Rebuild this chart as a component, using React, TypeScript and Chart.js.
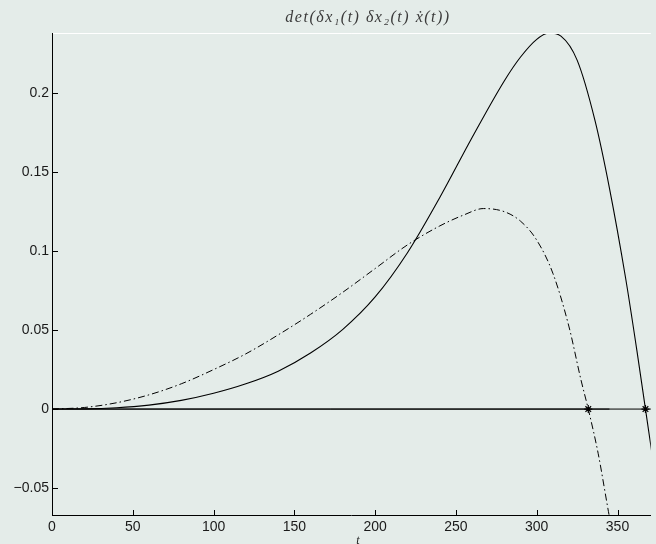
import React, { useEffect, useRef } from 'react';
import { Chart, registerables } from 'chart.js';
Chart.register(...registerables);

const tSolid = [0, 20, 40, 60, 80, 100, 120, 140, 160, 180, 200, 220, 240, 260, 280, 290, 300, 307.6, 315, 325, 336, 345, 355, 362, 367.3, 372];
const vSolid = [0, 0.0001, 0.0008, 0.0025, 0.0055, 0.01, 0.016, 0.024, 0.0355, 0.0505, 0.071, 0.099, 0.134, 0.172, 0.208, 0.223, 0.2342, 0.2382, 0.2362, 0.221, 0.183, 0.14, 0.083, 0.037, 0, -0.033];
const tDash = [0, 20, 40, 60, 80, 100, 120, 140, 160, 180, 200, 220, 240, 255, 267, 280, 290, 300, 310, 320, 327.4, 331.9, 338, 344.4, 348];
const vDash = [0, 0.001, 0.004, 0.009, 0.016, 0.025, 0.035, 0.047, 0.06, 0.074, 0.089, 0.104, 0.116, 0.123, 0.127, 0.125, 0.119, 0.107, 0.086, 0.052, 0.0184, 0, -0.028, -0.065, -0.085];
const zeroT = [0, 372];
const zeroShortT = [0, 345];
const crossT = [331.9, 367.3];
const xTicks = [0, 50, 100, 150, 200, 250, 300, 350];
const xTickLabels = ['0', '50', '100', '150', '200', '250', '300', '350'];
const yTicks = [-0.05, 0, 0.05, 0.1, 0.15, 0.2];
const yTickLabels = ['\u22120.05', '0', '0.05', '0.1', '0.15', '0.2'];
const xRange = [0, 370.6];
const yRange = [-0.0671, 0.2382];
const titleText = 'det(\u03b4x\u2081(t) \u03b4x\u2082(t) \u1e8b(t))';
const xLabel = 't';

const BG = '#e4ece9';

const decor = {
  id: 'decor',
  afterDatasetsDraw(chart: any) {
    const { ctx, chartArea: a, scales } = chart;
    ctx.save();
    ctx.strokeStyle = '#000';
    ctx.lineWidth = 1;
    ctx.beginPath();
    xTicks.forEach((v) => {
      const x = Math.round(scales.x.getPixelForValue(v)) + 0.5;
      ctx.moveTo(x, a.bottom);
      ctx.lineTo(x, a.bottom - 5);
    });
    yTicks.forEach((v) => {
      const y = Math.round(scales.y.getPixelForValue(v)) + 0.5;
      ctx.moveTo(a.left, y);
      ctx.lineTo(a.left + 6, y);
    });
    ctx.stroke();
    ctx.strokeStyle = '#ffffff';
    ctx.beginPath();
    ctx.moveTo(a.left + 1, a.top + 0.5);
    ctx.lineTo(a.right, a.top + 0.5);
    ctx.stroke();
    ctx.fillStyle = '#3a3a3a';
    ctx.textAlign = 'center';
    ctx.textBaseline = 'alphabetic';
    ctx.font = 'italic 16px "Liberation Serif"';
    try { (ctx as any).letterSpacing = '1.5px'; } catch (e) {}
    ctx.fillText(titleText, 368, 22);
    try { (ctx as any).letterSpacing = '0px'; } catch (e) {}
    ctx.font = 'italic 12px "Liberation Serif"';
    ctx.textBaseline = 'top';
    ctx.fillStyle = '#222';
    ctx.fillText(xLabel, 358, 535);
    ctx.restore();
  },
};

export default function App() {
  const ref = useRef<HTMLCanvasElement | null>(null);
  useEffect(() => {
    if (!ref.current) return;
    const chart = new Chart(ref.current, {
      type: 'line',
      data: {
        datasets: [
          {
            data: zeroT.map((t) => ({ x: t, y: 0 })),
            borderColor: '#000',
            borderWidth: 1,
            pointRadius: 0,
          },
          {
            data: zeroShortT.map((t) => ({ x: t, y: 0 })),
            borderColor: '#000',
            borderWidth: 1,
            pointRadius: 0,
          },
          {
            data: tSolid.map((t, i) => ({ x: t, y: vSolid[i] })),
            borderColor: '#000',
            borderWidth: 1.1,
            pointRadius: 0,
            cubicInterpolationMode: 'monotone',
          },
          {
            data: tDash.map((t, i) => ({ x: t, y: vDash[i] })),
            borderColor: '#000',
            borderWidth: 1,
            borderDash: [7, 3, 1.5, 3],
            pointRadius: 0,
            cubicInterpolationMode: 'monotone',
          },
          {
            data: crossT.map((t) => ({ x: t, y: 0 })),
            showLine: false,
            pointStyle: 'star',
            pointRadius: 4,
            borderColor: '#000',
            borderWidth: 1.2,
            backgroundColor: '#000',
          },
        ],
      } as any,
      options: {
        animation: false,
        responsive: false,
        events: [],
        layout: { padding: { top: 33, left: 0, right: 0, bottom: 0 } },
        plugins: { legend: { display: false }, tooltip: { enabled: false }, title: { display: false } },
        scales: {
          x: {
            type: 'linear',
            min: xRange[0],
            max: xRange[1],
            afterFit: (s: any) => { s.height = 29; },
            afterBuildTicks: (s: any) => { s.ticks = xTicks.map((v) => ({ value: v })); },
            grid: { display: false, drawTicks: false },
            border: { display: true, color: '#000', width: 1 },
            ticks: {
              padding: 4,
              color: '#1a1a1a',
              font: { family: '"Liberation Sans", Arial, sans-serif', size: 14 },
              maxRotation: 0,
              autoSkip: false,
              callback: (v: any) => xTickLabels[xTicks.indexOf(v)],
            },
          },
          y: {
            type: 'linear',
            min: yRange[0],
            max: yRange[1],
            afterFit: (s: any) => { s.width = 52; },
            afterBuildTicks: (s: any) => { s.ticks = yTicks.map((v) => ({ value: v })); },
            grid: { display: false, drawTicks: false },
            border: { display: true, color: '#000', width: 1 },
            ticks: {
              padding: 3,
              color: '#1a1a1a',
              font: { family: '"Liberation Sans", Arial, sans-serif', size: 14 },
              autoSkip: false,
              callback: (v: any) => yTickLabels[yTicks.indexOf(v)],
            },
          },
        },
      } as any,
      plugins: [decor],
    });
    return () => chart.destroy();
  }, []);
  return (
    <div style={{ position: 'fixed', left: 0, top: 0, width: 656, height: 544, overflow: 'hidden', background: BG }}>
      <canvas ref={ref} width={656} height={544} style={{ display: 'block' }} />
    </div>
  );
}
